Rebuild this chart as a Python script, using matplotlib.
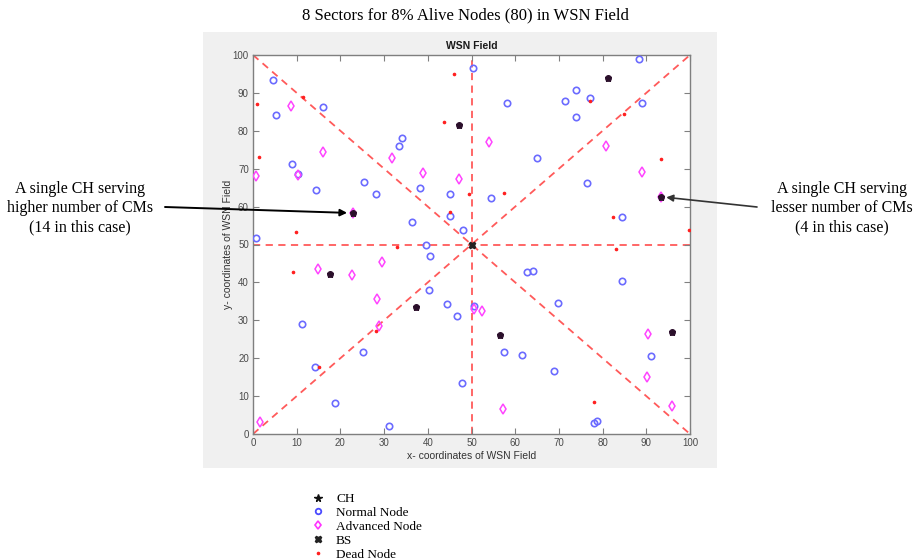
import matplotlib
matplotlib.use("Agg")
import matplotlib.pyplot as plt
from matplotlib.lines import Line2D

# ---------------- data ----------------
normal_x = [4.5, 5.3, 16.0, 34.1, 33.5, 8.9, 10.2, 14.4, 25.4, 28.2, 38.3, 45.1, 45.1, 36.3, 48.1, 0.7,
            50.4, 58.2, 88.3, 71.5, 73.9, 77.2, 73.8, 89.1, 65.0, 76.5, 54.4, 84.5,
            39.7, 40.6, 40.3, 44.5, 46.7, 47.9, 11.3, 14.2, 25.1, 18.7, 31.2,
            62.6, 64.1, 84.4, 69.7, 50.5, 57.5, 61.5, 68.9, 91.1, 78.0, 78.8]
normal_y = [93.3, 84.2, 86.4, 78.2, 75.9, 71.2, 68.5, 64.3, 66.6, 63.2, 65.0, 63.2, 57.4, 55.9, 53.7, 51.7,
            96.5, 87.3, 99.0, 87.8, 90.7, 88.6, 83.7, 87.4, 72.7, 66.1, 62.2, 57.2,
            50.0, 47.0, 37.9, 34.4, 31.1, 13.4, 29.0, 17.7, 21.6, 8.3, 2.1,
            42.7, 43.1, 40.3, 34.5, 33.9, 21.7, 20.8, 16.7, 20.5, 3.0, 3.3]

adv_x = [8.8, 0.8, 10.4, 16.0, 31.9, 38.8, 47.1, 22.8, 54.0, 80.7, 89.1, 93.3,
         14.8, 22.7, 29.6, 28.3, 28.9, 1.5, 50.5, 52.5, 90.4, 90.1, 95.9, 57.1]
adv_y = [86.5, 68.1, 68.4, 74.3, 72.8, 68.9, 67.4, 58.3, 77.1, 76.0, 69.1, 62.6,
         43.5, 42.0, 45.4, 35.6, 28.5, 3.1, 32.9, 32.4, 26.4, 15.0, 7.5, 6.6]

dead_x = [1.0, 11.4, 1.4, 9.9, 46.0, 43.6, 49.4, 45.1, 85.0, 77.2, 93.3, 57.4, 82.3, 99.7,
          9.1, 32.9, 28.2, 15.0, 83.1, 78.1]
dead_y = [87.1, 89.0, 73.1, 53.3, 94.9, 82.2, 63.2, 58.5, 84.4, 87.9, 72.5, 63.5, 57.3, 53.7,
          42.8, 49.4, 27.1, 17.7, 48.7, 8.4]

ch_x = [22.8, 47.2, 81.3, 93.3, 17.6, 37.4, 56.5, 95.8]
ch_y = [58.3, 81.5, 94.0, 62.6, 42.3, 33.5, 26.2, 26.8]

bs_x = [50]
bs_y = [50]

# sector boundary lines (field 100x100, BS at centre)
sector_lines = [([0, 100], [0, 100]), ([0, 100], [100, 0]), ([0, 100], [50, 50]), ([50, 50], [0, 100])]

ticks = [0, 10, 20, 30, 40, 50, 60, 70, 80, 90, 100]

W, H = 921, 559
fig = plt.figure(figsize=(W / 100, H / 100), dpi=100)
fig.patch.set_facecolor("white")

# gray MATLAB figure panel
bg = fig.add_axes([203 / W, 1 - 468 / H, 514 / W, 436 / H], zorder=0)
bg.set_facecolor("#f0f0f0")
bg.set_xticks([])
bg.set_yticks([])
for s in bg.spines.values():
    s.set_visible(False)

ax = fig.add_axes([253 / W, 1 - 434 / H, (690 - 253) / W, (434 - 55) / H], zorder=1)
ax.set_facecolor("white")
sans = "Liberation Sans"
serif = "Liberation Serif"

for lx, ly in sector_lines:
    ax.plot(lx, ly, linestyle=(0, (4, 3)), color="#ff5a5a", lw=1.3, zorder=1)

ax.plot(normal_x, normal_y, linestyle="none", marker="o", markersize=4.6,
        markerfacecolor="none", markeredgecolor="#6b6bff", markeredgewidth=1.2, zorder=3)
ax.plot(adv_x, adv_y, linestyle="none", marker="d", markersize=5,
        markerfacecolor="none", markeredgecolor="#ff44ff", markeredgewidth=1.1, zorder=3)
ax.plot(dead_x, dead_y, linestyle="none", marker=".", markersize=3.2,
        color="#ff2020", zorder=4)
ax.plot(ch_x, ch_y, linestyle="none", marker="o", markersize=4,
        markerfacecolor="#3a1a3a", markeredgecolor="#3a1a3a", zorder=5)
ax.plot(ch_x, ch_y, linestyle="none", marker="*", markersize=5,
        color="#2a102a", zorder=6)
ax.plot(bs_x, bs_y, linestyle="none", marker="X", markersize=5,
        color="#222222", zorder=7)

ax.set_xlim(0, 100)
ax.set_ylim(0, 100)
ax.set_xticks(ticks)
ax.set_yticks(ticks)
ax.tick_params(direction="in", length=4, width=0.8, color="#808080",
               labelsize=7, labelcolor="#4a4a4a", top=True, right=True, pad=3)
for lab in ax.get_xticklabels() + ax.get_yticklabels():
    lab.set_fontfamily(sans)
for s in ax.spines.values():
    s.set_color("#7f7f7f")
    s.set_linewidth(1.0)

ax.set_title("WSN Field", fontsize=7.5, fontweight="bold", family=sans, pad=4, color="#1a1a1a")
ax.set_xlabel("x- coordinates of WSN Field", fontsize=7.5, family=sans, color="#333333", labelpad=2)
ax.set_ylabel("y- coordinates of WSN Field", fontsize=7.5, family=sans, color="#333333", labelpad=0)

# main title
fig.text(465 / W, 1 - 15 / H, "8 Sectors for 8% Alive Nodes (80) in WSN Field",
         ha="center", va="center", fontsize=12, family=serif)

# annotations
fig.text(80 / W, 1 - 208 / H, "A single CH serving\nhigher number of CMs\n(14 in this case)",
         ha="center", va="center", fontsize=11.5, family=serif, linespacing=1.25)
fig.text(842 / W, 1 - 208 / H, "A single CH serving\nlesser number of CMs\n(4 in this case)",
         ha="center", va="center", fontsize=11.5, family=serif, linespacing=1.25)

ax.annotate("", xy=(ch_x[0], ch_y[0]), xycoords="data",
            xytext=(165 / W, 1 - 207 / H), textcoords="figure fraction",
            arrowprops=dict(arrowstyle="-|>", color="black", lw=1.4,
                            mutation_scale=10, shrinkA=0, shrinkB=4),
            annotation_clip=False, zorder=10)
ax.annotate("", xy=(ch_x[3], ch_y[3]), xycoords="data",
            xytext=(757 / W, 1 - 207 / H), textcoords="figure fraction",
            arrowprops=dict(arrowstyle="-|>", color="#333333", lw=1.2,
                            mutation_scale=10, shrinkA=0, shrinkB=4),
            annotation_clip=False, zorder=10)

# legend
leg_handles = [
    Line2D([], [], linestyle="none", marker="*", markersize=5.5, color="#111111"),
    Line2D([], [], linestyle="none", marker="o", markersize=4, markerfacecolor="none",
           markeredgecolor="#4a4aff", markeredgewidth=1.3),
    Line2D([], [], linestyle="none", marker="d", markersize=4.5, markerfacecolor="none",
           markeredgecolor="#ff33ff", markeredgewidth=1.2),
    Line2D([], [], linestyle="none", marker="X", markersize=5, color="#222222"),
    Line2D([], [], linestyle="none", marker=".", markersize=3.2, color="#ff2020"),
]
leg_labels = ["CH", "Normal Node", "Advanced Node", "BS", "Dead Node"]
fig.legend(leg_handles, leg_labels, loc="upper left",
           bbox_to_anchor=(311 / W, 1 - 493 / H), frameon=False,
           prop={"family": serif, "size": 9.5}, labelspacing=0.12,
           handlelength=1.0, handletextpad=0.9, borderaxespad=0, borderpad=0)

fig.savefig("out.png", dpi=100)
